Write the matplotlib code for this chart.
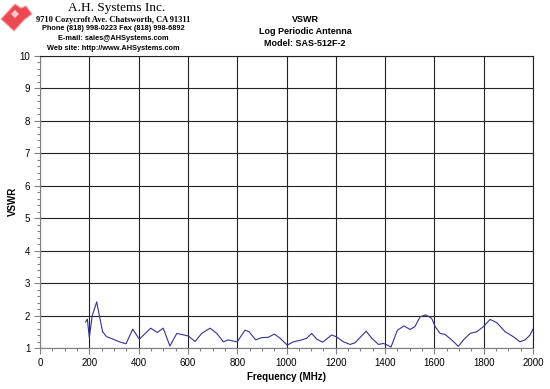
import matplotlib
matplotlib.use('Agg')
import matplotlib.pyplot as plt
from matplotlib.patches import Polygon
from matplotlib.ticker import MultipleLocator

# data
freq_mhz = [185, 192, 200, 212, 230, 242, 254, 270, 297, 322, 349, 376, 403, 449, 476, 500, 527,
            555, 602, 629, 656, 690, 717, 744, 764, 780, 800, 832, 848, 875, 899, 926, 951, 974,
            1003, 1028, 1062, 1082, 1102, 1123, 1147, 1183, 1201, 1231, 1258, 1278, 1323, 1346,
            1373, 1393, 1409, 1424, 1450, 1477, 1501, 1521, 1542, 1565, 1589, 1603, 1623, 1643,
            1670, 1697, 1718, 1745, 1772, 1799, 1826, 1853, 1887, 1920, 1947, 1968, 1988, 2000]
vswr = [1.80, 1.89, 1.32, 2.00, 2.42, 1.95, 1.50, 1.35, 1.27, 1.19, 1.13, 1.58, 1.27, 1.61, 1.48,
        1.61, 1.06, 1.45, 1.37, 1.20, 1.45, 1.61, 1.45, 1.19, 1.25, 1.22, 1.19, 1.55, 1.50, 1.25,
        1.32, 1.33, 1.43, 1.30, 1.09, 1.19, 1.25, 1.30, 1.45, 1.27, 1.18, 1.40, 1.35, 1.19, 1.11,
        1.16, 1.52, 1.30, 1.11, 1.14, 1.09, 1.03, 1.55, 1.68, 1.57, 1.66, 1.96, 2.02, 1.91, 1.66,
        1.45, 1.42, 1.25, 1.05, 1.25, 1.45, 1.50, 1.66, 1.88, 1.78, 1.50, 1.35, 1.19, 1.25, 1.40,
        1.58]

title_lines = ['VSWR', 'Log Periodic Antenna', 'Model: SAS-512F-2']
company = 'A.H. Systems Inc.'
contact_lines = ['9710 Cozycroft Ave. Chatsworth, CA 91311',
                 'Phone (818) 998-0223 Fax (818) 998-6892',
                 'E-mail: sales@AHSystems.com',
                 'Web site: http://www.AHSystems.com']

plt.rcParams['font.family'] = ['Liberation Sans', 'DejaVu Sans']
serif = ['Liberation Serif', 'DejaVu Serif']

W, H = 550, 389
fig = plt.figure(figsize=(W / 100, H / 100), dpi=100)
ax = fig.add_axes([40 / W, 1 - 348 / H, 493 / W, (348 - 55.7) / H])

ax.plot(freq_mhz, vswr, color='#333399', lw=0.8)

ax.set_xlim(0, 2000)
ax.set_ylim(1, 10)
ax.xaxis.set_major_locator(MultipleLocator(200))
ax.xaxis.set_minor_locator(MultipleLocator(50))
ax.yaxis.set_major_locator(MultipleLocator(1))
ax.yaxis.set_minor_locator(MultipleLocator(0.2))
ax.grid(True, which='major', color='#222222', lw=0.8)
ax.tick_params(which='major', length=4, width=0.8, color='#808080', labelsize=7, pad=3)
ax.tick_params(which='minor', length=2, width=0.8, color='#808080')
for side in ['left', 'bottom']:
    ax.spines[side].set_color('#808080')
for side in ['top', 'right']:
    ax.spines[side].set_color('#222222')
    ax.spines[side].set_linewidth(0.8)

ax.set_xlabel('Frequency (MHz)', fontsize=7, fontweight='bold')
ax.set_ylabel('VSWR', fontsize=7, fontweight='bold')
ax.xaxis.set_label_coords(0.5, -(377 - 348) / (348 - 55.7), transform=ax.transAxes)
ax.yaxis.set_label_coords(-(40 - 13) / 493, 0.5, transform=ax.transAxes)
ax.xaxis.label.set_va('center')
ax.yaxis.label.set_va('center')

# title block
for i, line in enumerate(title_lines):
    fig.text(305 / W, 1 - (20 + 12 * i) / H, line, ha='center', va='center',
             fontsize=6.5, fontweight='bold')

# company header
fig.text(117 / W, 1 - 8.5 / H, company, ha='center', va='center', fontsize=9.5, family=serif)
fig.text(113 / W, 1 - 19.5 / H, contact_lines[0], ha='center', va='center',
         fontsize=6, fontweight='bold', family=serif)
for i, line in enumerate(contact_lines[1:]):
    fig.text(113 / W, 1 - (29 + 9.5 * i) / H, line, ha='center', va='center',
             fontsize=5.3, fontweight='bold')

# simple stand-in for the logo
def px(points):
    return [(x, H - y) for x, y in points]

fig.patches.append(Polygon(px([(1, 19), (15, 4), (21, 8), (26, 6), (32, 14), (24, 20), (14, 31)]),
                           closed=True, transform=None, facecolor='#ec4a52',
                           edgecolor='#f4a3a6', lw=0.8))
fig.patches.append(Polygon(px([(11, 14), (15, 10), (19, 14), (15, 18)]),
                           closed=True, transform=None, facecolor='#f6c9cb', edgecolor='none'))

fig.savefig('out.png', dpi=100)
